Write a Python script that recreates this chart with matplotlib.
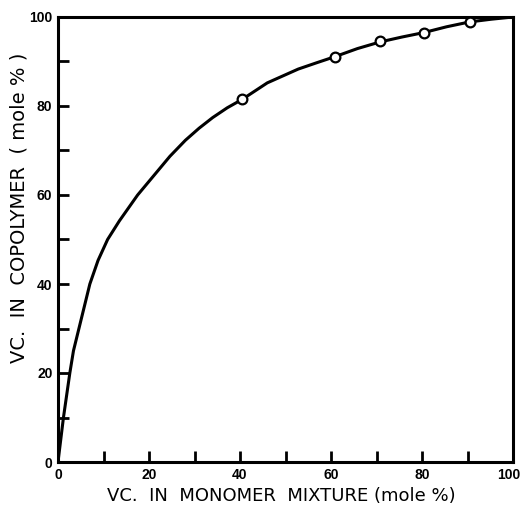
import matplotlib
matplotlib.use("Agg")
import matplotlib.pyplot as plt
import matplotlib.transforms as mtransforms

# Curve
curve_x = [0, 0.6, 1.2, 1.9, 2.6, 3.4, 4.6, 5.8, 7.0, 8.8, 10.9, 13.5, 17.5, 21.5, 24.6, 28, 31, 34, 37.2, 40.5, 46, 52.8, 56.8, 60.9, 65.8, 70.8, 75.6, 80.4, 85.4, 90.5, 95.2, 100]
curve_y = [0, 5, 10, 15, 20, 25, 30, 35, 40, 45.3, 50, 54.2, 60, 64.9, 68.7, 72.3, 75, 77.4, 79.6, 81.5, 85.2, 88.3, 89.7, 91.1, 92.9, 94.4, 95.5, 96.5, 97.8, 98.9, 99.5, 100]

# Experimental points
pts_x = [40.5, 60.9, 70.8, 80.4, 90.5]
pts_y = [81.5, 90.9, 94.7, 96.3, 98.9]

major_ticks = [0, 20, 40, 60, 80, 100]
minor_ticks = [10, 30, 50, 70, 90]
tick_labels = ['0', '20', '40', '60', '80', '100']

plt.rcParams['font.family'] = ['DejaVu Sans']

fig = plt.figure(figsize=(5.23, 5.11), dpi=100)
ax = fig.add_axes([58/523, 49/511, 455/523, 445/511])

ax.plot(curve_x, curve_y, color='black', lw=2.2, solid_capstyle='round',
        solid_joinstyle='round', zorder=2)
ax.plot(pts_x, pts_y, 'o', ms=7, mfc='white', mec='black', mew=1.6, zorder=3)

ax.set_xlim(0, 100)
ax.set_ylim(0, 100)

for s in ax.spines.values():
    s.set_linewidth(2.2)

ax.set_xticks(major_ticks, tick_labels)
ax.set_yticks(major_ticks, tick_labels)
ax.set_xticks(minor_ticks, minor=True)
ax.set_yticks(minor_ticks, minor=True)
ax.tick_params(which='both', direction='in', length=8, width=2, top=False, right=False)
ax.tick_params(which='major', labelsize=10, pad=4)
for lbl in ax.get_xticklabels() + ax.get_yticklabels():
    lbl.set_fontweight('bold')
    lbl.set_family(['Liberation Sans'])

# keep the last x tick label inside the figure
last = ax.get_xticklabels()[-1]
last.set_transform(last.get_transform() + mtransforms.ScaledTranslation(-4/100, 0, fig.dpi_scale_trans))

ax.set_xlabel('VC.  IN  MONOMER  MIXTURE (mole %)', fontsize=13)
ax.xaxis.set_label_coords(0.49, -0.056)
ax.set_ylabel('VC.  IN  COPOLYMER  ( mole % )', fontsize=14)
ax.yaxis.set_label_coords(-0.064, 0.571)

fig.savefig('out.png', dpi=100)
